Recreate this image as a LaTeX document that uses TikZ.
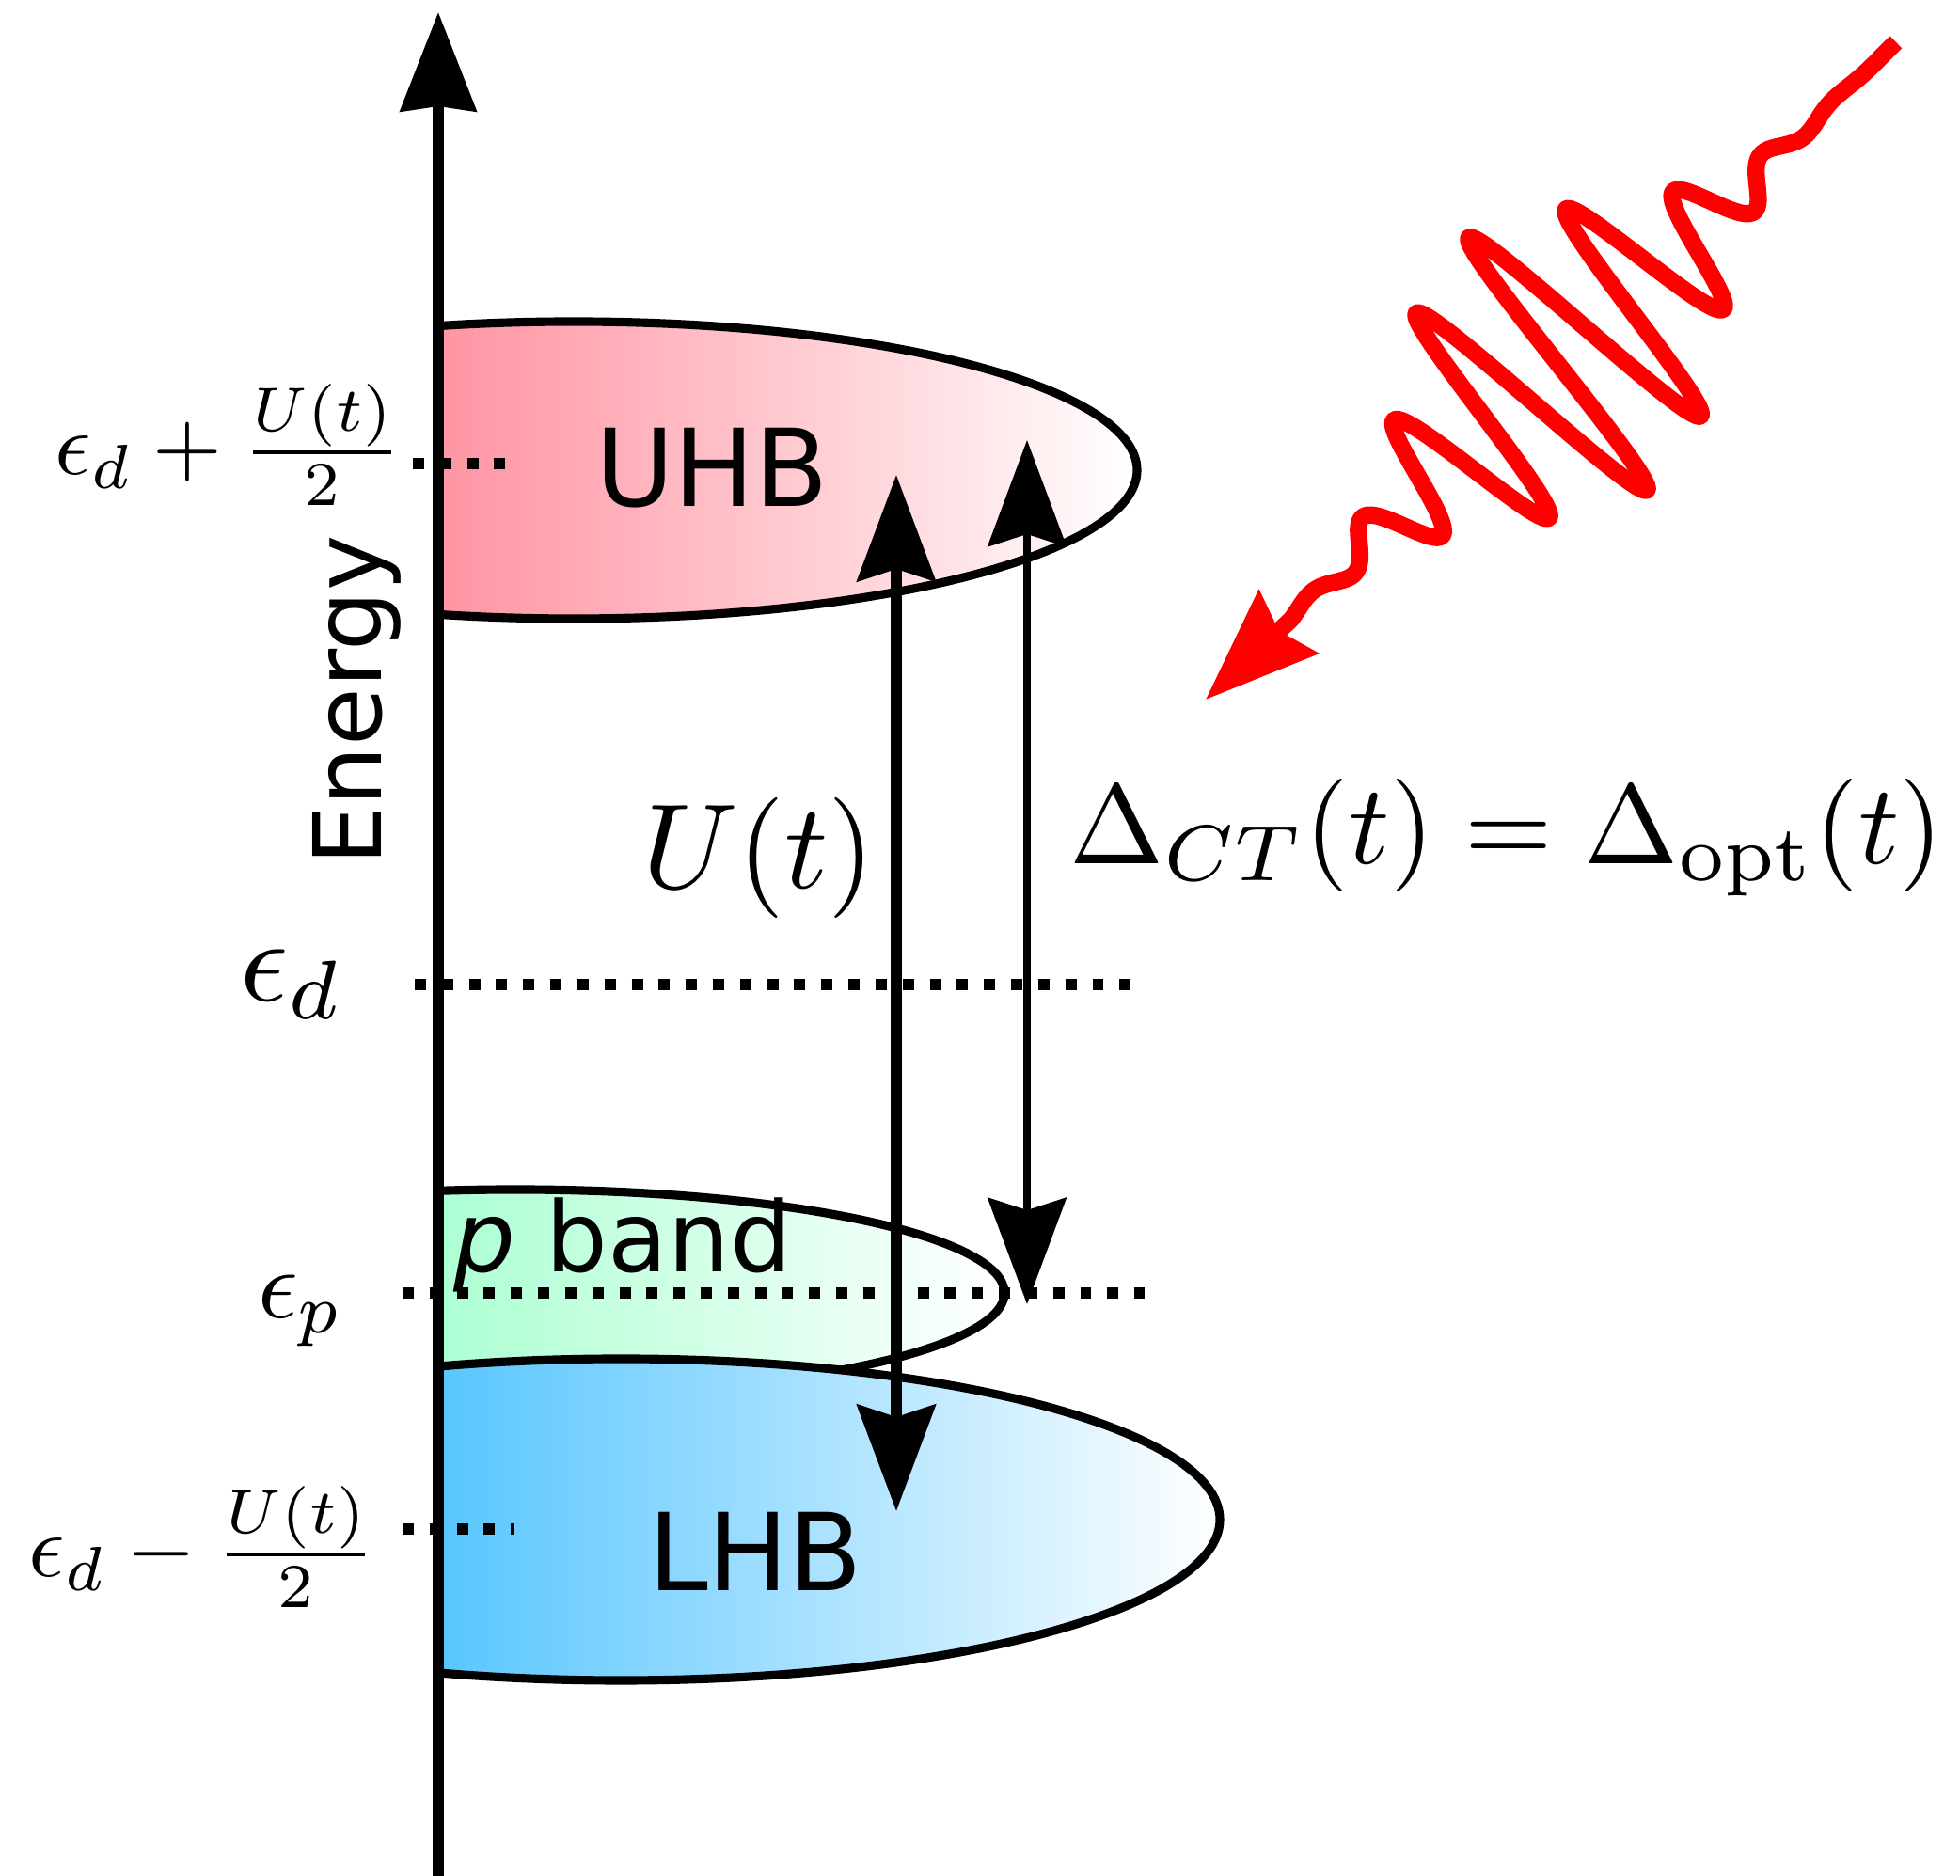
\documentclass[tikz,border=0pt]{standalone}
\usepackage{fix-cm}
\usepackage{fontspec}
\newfontfamily\bandfont{DejaVu Sans}
\usetikzlibrary{arrows.meta}
\definecolor{uhbred}{RGB}{255,148,162}
\definecolor{pgreen}{RGB}{172,255,210}
\definecolor{lhbblue}{RGB}{88,198,255}

\begin{document}
\begin{tikzpicture}[
  bandedge/.style={line width=2.6pt},
  level/.style={line width=3.6pt, dash pattern=on 3.4pt off 4.8pt},
  bandtext/.style={font=\bandfont\fontsize{32.5}{38}\selectfont, inner sep=0pt},
  mathtext/.style={inner sep=0pt, transform shape},
  transition/.style={{Stealth[length=11.3mm,width=8.3mm,inset=1.3mm]}-{Stealth[length=11.3mm,width=8.3mm,inset=1.3mm]}},
  photon/.style={red, line width=5.2pt, line join=round, -{Stealth[length=12mm,width=9mm,inset=1.3mm]}}
]
\useasboundingbox (0,0) rectangle (20.84,19.95);

% p band
\begin{scope}
\clip (5.48,6.20) ellipse (5.20 and 1.10);
\shade[left color=pgreen, right color=white] (4.66,5.10) rectangle (10.68,7.30);
\end{scope}
\begin{scope}
\clip (4.66,0) rectangle (20.84,19.95);
\draw[bandedge] (5.48,6.20) ellipse (5.20 and 1.10);
\end{scope}

% lower Hubbard band
\begin{scope}
\clip (6.60,3.79) ellipse (6.37 and 1.71);
\shade[left color=lhbblue, right color=white] (4.66,2.08) rectangle (12.97,5.50);
\end{scope}
\begin{scope}
\clip (4.66,0) rectangle (20.84,19.95);
\draw[bandedge] (6.60,3.79) ellipse (6.37 and 1.71);
\end{scope}

% upper Hubbard band
\begin{scope}
\clip (6.10,14.95) ellipse (5.99 and 1.58);
\shade[left color=uhbred, right color=white] (4.66,13.37) rectangle (12.09,16.53);
\end{scope}
\begin{scope}
\clip (4.66,0) rectangle (20.84,19.95);
\draw[bandedge] (6.10,14.95) ellipse (5.99 and 1.58);
\end{scope}

% levels
\draw[level] (4.39,15.02) -- (5.52,15.02);
\draw[level] (4.41,9.48) -- (12.07,9.48);
\draw[level] (4.28,6.20) -- (12.17,6.20);
\draw[level] (4.28,3.69) -- (5.46,3.69);

% energy axis
\coordinate (axisbot) at (4.66,0);
\coordinate (axistop) at (4.66,19.82);
\draw[line width=3.4pt, -{Stealth[length=10.5mm,width=8mm,inset=0.5mm]}] (axisbot) -- (axistop);

\node[bandtext] (uhb) at (7.57,14.97) {UHB};
\node[bandtext] (lhb) at (8.03,3.45) {LHB};
\node[bandtext, font=\bandfont\fontsize{29.5}{35}\selectfont, anchor=base] (pband) at (6.62,6.42) {\textit{p} band};
\node[bandtext, font=\bandfont\fontsize{28.5}{34}\selectfont, rotate=90, anchor=base] (energy) at (4.05,12.50) {Energy};

\node[mathtext, scale=3.65] (ulabel) at (8.07,10.83) {$U(t)$};
\node[mathtext, scale=3.42, anchor=east] (gaplabel) at (20.69,11.04) {$\Delta_{CT}(t)=\Delta_{\mathrm{opt}}(t)$};
\node[mathtext, scale=3.6, anchor=base west] (edlabel) at (2.53,9.30) {$\epsilon_d$};
\node[mathtext, scale=3.0, anchor=base west] (eplabel) at (2.72,5.93) {$\epsilon_p$};
\node[mathtext, scale=2.7, anchor=base east] (edplus) at (4.29,14.90) {$\epsilon_d+\frac{U(t)}{2}$};
\node[mathtext, scale=2.7, anchor=base east] (edminus) at (4.01,3.18) {$\epsilon_d-\frac{U(t)}{2}$};

% transitions
\coordinate (utop) at (9.53,14.90);
\coordinate (ubot) at (9.53,3.88);
\coordinate (gtop) at (10.92,15.27);
\coordinate (gbot) at (10.92,6.08);
\draw[transition, line width=3.4pt] (utop) -- (ubot);
\draw[transition, line width=2.5pt] (gtop) -- (gbot);

% light pulse
\begin{scope}[shift={(20.16,19.50)}, rotate=223.6]
\draw[photon] plot[domain=0:8.9, samples=500] (\x, {-1.65*exp(-(\x-4.95)*(\x-4.95)/3.8025)*cos(360*(\x-4.72)/0.97)}) -- (10.14,0);
\end{scope}
\end{tikzpicture}
\end{document}
